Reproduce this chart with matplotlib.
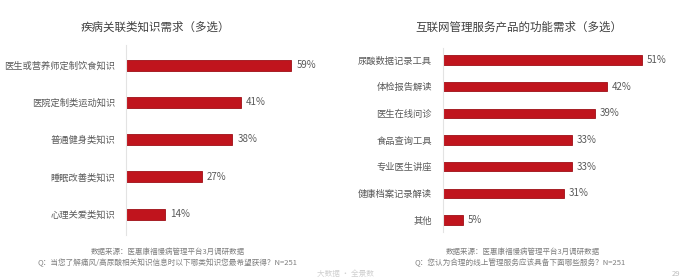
import matplotlib
matplotlib.use("Agg")
import matplotlib.pyplot as plt

plt.rcParams['font.family'] = ['Noto Sans CJK SC', 'DejaVu Sans']

# left panel data
left_title = "疾病关联类知识需求（多选）"
left_cats = ["医生或营养师定制饮食知识", "医院定制类运动知识", "普通健身类知识",
             "睡眠改善类知识", "心理关爱类知识"]
left_vals = [59, 41, 38, 27, 14]
left_src = "数据来源：医惠康福慢病管理平台3月调研数据"
left_q = "Q：当您了解痛风/高尿酸相关知识信息时以下哪类知识您最希望获得？N=251"

# right panel data
right_title = "互联网管理服务产品的功能需求（多选）"
right_cats = ["尿酸数据记录工具", "体检报告解读", "医生在线问诊", "食品查询工具",
              "专业医生讲座", "健康档案记录解读", "其他"]
right_vals = [51, 42, 39, 33, 33, 31, 5]
right_src = "数据来源：医惠康福慢病管理平台3月调研数据"
right_q = "Q：您认为合理的线上管理服务应该具备下面哪些服务？N=251"

W, H = 691, 279
RED = "#C0141D"
EDGE = "#9E0F16"
TXT = "#595959"

fig = plt.figure(figsize=(W / 100, H / 100), dpi=100)
fig.patch.set_facecolor("white")


def panel(x0, top, bottom, px_per_pct, xmax, cats, vals, bar_h, label_px):
    n = len(cats)
    spacing = (bottom - top) / (n - 1)
    ytop = top - 20 if n < 6 else top - 12
    ybot = bottom + 21 if n < 6 else bottom + 12
    width = px_per_pct * xmax
    ax = fig.add_axes([x0 / W, 1 - ybot / H, width / W, (ybot - ytop) / H])
    ax.barh(range(n), vals, height=bar_h / spacing, color=RED, edgecolor=EDGE, linewidth=0.6)
    ax.set_xlim(0, xmax)
    ax.set_ylim(n - 1 + (ybot - bottom) / spacing, -(top - ytop) / spacing)
    ax.set_yticks(range(n))
    ax.set_yticklabels(cats, fontsize=label_px, color=TXT)
    ax.tick_params(axis="y", length=0, pad=8)
    ax.set_xticks([])
    for s in ["top", "right", "bottom"]:
        ax.spines[s].set_visible(False)
    ax.spines["left"].set_color("#e3e3e3")
    ax.spines["left"].set_linewidth(0.8)
    for i, v in enumerate(vals):
        ax.text(v + 5 / px_per_pct, i, f"{v}%", va="center", ha="left",
                fontsize=7, color=TXT)
    return ax


panel(126, 65, 214, 2.8, 70, left_cats, left_vals, 11, 6.7)
panel(443, 60, 220, 3.9, 60, right_cats, right_vals, 9.5, 6.7)

fig.text(155 / W, 1 - 27 / H, left_title, ha="center", va="center", fontsize=8.3, color="#404040")
fig.text(519 / W, 1 - 27 / H, right_title, ha="center", va="center", fontsize=8.3, color="#404040")

fig.text(168 / W, 1 - 252 / H, left_src, ha="center", va="center", fontsize=5.4, color="#7f7f7f")
fig.text(167 / W, 1 - 263 / H, left_q, ha="center", va="center", fontsize=5.5, color="#7f7f7f")
fig.text(523 / W, 1 - 252 / H, right_src, ha="center", va="center", fontsize=5.4, color="#7f7f7f")
fig.text(520 / W, 1 - 263 / H, right_q, ha="center", va="center", fontsize=5.5, color="#7f7f7f")

# faint footer marks
fig.text(345 / W, 1 - 274 / H, "大数据 · 全景数", ha="center", va="center", fontsize=5.5, color="#d0d0d0")
fig.text(676 / W, 1 - 274 / H, "29", ha="center", va="center", fontsize=5.5, color="#bdbdbd")

fig.savefig("out.png", dpi=100, facecolor="white")
